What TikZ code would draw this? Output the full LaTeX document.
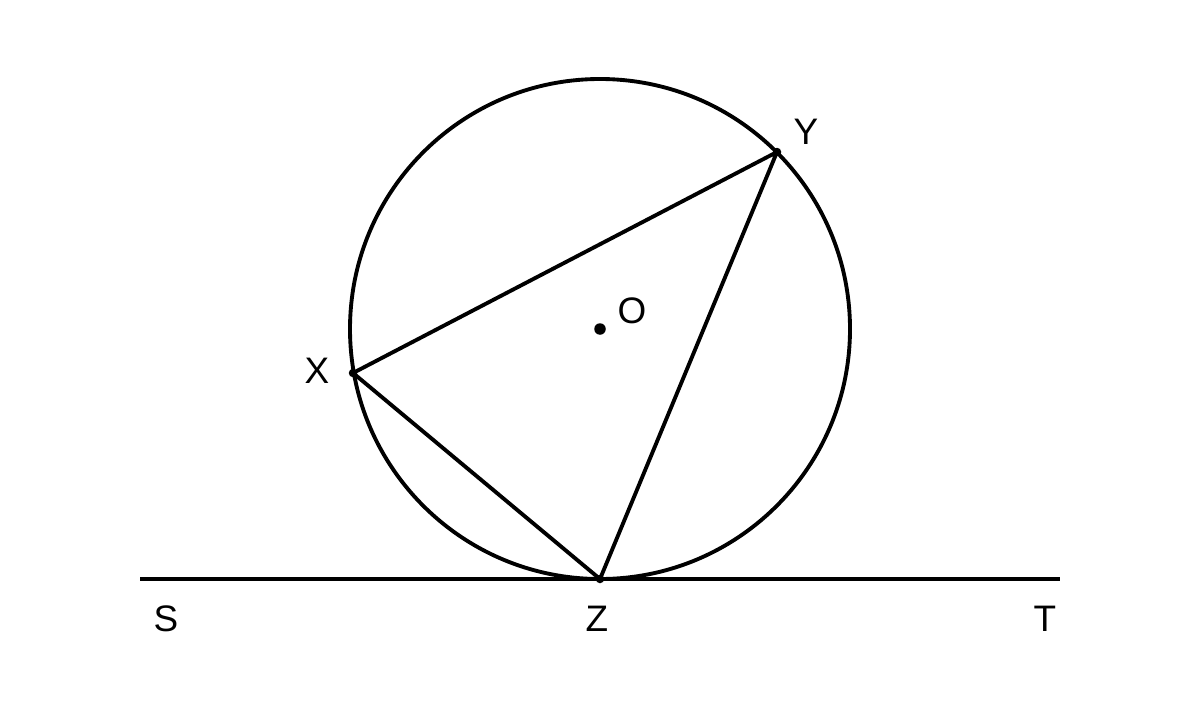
\documentclass[tikz,border=0pt]{standalone}
\usepackage{fontspec}
\setmainfont{Liberation Sans}
\begin{document}
\begin{tikzpicture}[x=0.02cm,y=-0.02cm,
  geo/.style={line width=2.2pt,black},
  pt/.style={circle,fill=black,inner sep=0pt,minimum size=0.17cm},
  lbl/.style={font=\fontsize{21}{25}\selectfont,inner sep=0pt}]
\useasboundingbox (0,0) rectangle (1200,720);
\coordinate (O) at (600,329);
\draw[geo] (O) circle[radius=250];
\coordinate (Sc) at (140,579);
\coordinate (Tc) at (1060,579);
\draw[geo] (Sc) -- (Tc);
\coordinate (X) at (353,373);
\coordinate (Y) at (777,152);
\coordinate (Z) at (600,579);
\draw[geo,line join=round] (X) -- (Y) -- (Z) -- cycle;
\node[pt] (Xd) at (X) {};
\node[pt] (Yd) at (Y) {};
\node[pt] (Zd) at (Z) {};
\node[pt,minimum size=0.23cm] (Od) at (O) {};
\node[lbl] (Sl) at (166,619) {S};
\node[lbl] (Zl) at (597,619) {Z};
\node[lbl] (Tl) at (1045,619) {T};
\node[lbl] (Xl) at (317,371) {X};
\node[lbl] (Yl) at (806,132) {Y};
\node[lbl] (Ol) at (632,311) {O};
\end{tikzpicture}
\end{document}
